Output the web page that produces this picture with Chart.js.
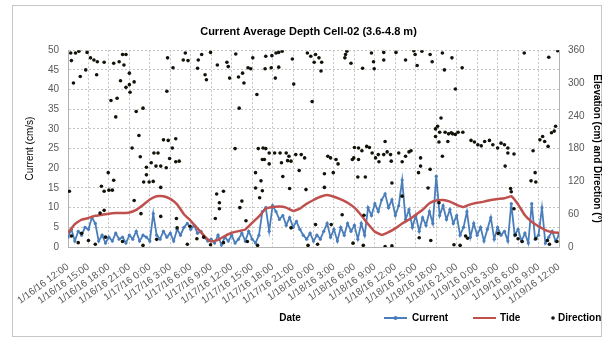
<!DOCTYPE html>
<html>
<head>
<meta charset="utf-8">
<title>Current Average Depth Cell-02</title>
<script src="https://cdn.jsdelivr.net/npm/chart.js@4.4.0/dist/chart.umd.min.js"></script>
<style>
  html, body { margin: 0; padding: 0; background: #fff; }
  #wrap { position: relative; width: 603px; height: 338px; }
</style>
</head>
<body>
<div id="wrap"><canvas id="depthChart" width="603" height="338"></canvas></div>
<script>
// x axis: hours since 1/16/16 12:00, one label every 3 hours
const tickLabels = [
  '1/16/16 12:00', '1/16/16 15:00', '1/16/16 18:00', '1/16/16 21:00',
  '1/17/16 0:00', '1/17/16 3:00', '1/17/16 6:00', '1/17/16 9:00',
  '1/17/16 12:00', '1/17/16 15:00', '1/17/16 18:00', '1/17/16 21:00',
  '1/18/16 0:00', '1/18/16 3:00', '1/18/16 6:00', '1/18/16 9:00',
  '1/18/16 12:00', '1/18/16 15:00', '1/18/16 18:00', '1/18/16 21:00',
  '1/19/16 0:00', '1/19/16 3:00', '1/19/16 6:00', '1/19/16 9:00',
  '1/19/16 12:00'
];
const tickStepHours = 3;

// Current (cm/s), one reading every half hour from hour 0
const currentStepHours = 0.5;
const currentValues = [
  2.5, 4.5, 1.5, 4, 3, 5, 4.5, 7.5, 6, 1.5,
  3, 1, 2.5, 1.5, 3.5, 2, 2.5, 1, 3, 2,
  4, 1.5, 3, 2.5, 1.5, 8.5, 3, 2, 4, 2.5,
  3.5, 1.5, 4.5, 3, 5, 6, 4.5, 5.5, 3.5, 4,
  2.5, 1.5, 2, 1, 3, 0.5, 2.5, 1.5, 3, 1,
  2, 3.5, 1.5, 4, 2, 1, 3, 9, 10, 4,
  10.5, 9, 7, 8, 5.5, 7.5, 5, 6.5, 4.5, 3,
  2, 3.5, 1.5, 3, 2, 4, 6, 2.5, 4.5, 1.5,
  5, 3, 6, 4, 5.5, 2, 6, 3, 10, 8,
  11, 9, 12, 13.5, 10, 12, 8, 10.5, 17, 7,
  9.5, 5, 8, 4, 7.5, 5.5, 9, 6, 18, 8,
  10.5, 7, 9.5, 6, 8, 3, 5, 9, 2.5, 6,
  3, 5, 1.5, 4.5, 7.5, 2, 5, 3, 4, 1.5,
  11, 3, 4.5, 1.5, 3.5, 1, 11, 2, 3, 10,
  1, 2.5, 4, 1.5, 3
];

// Tide elevation (cm), hourly from hour 0
const tideValues = [
  26, 42, 50, 53, 57, 59, 61, 62, 62, 63,
  68, 77, 87, 93, 93, 88, 78, 60, 48, 34,
  20, 10, 13, 20, 26, 29, 32, 44, 56, 70,
  73, 74, 72, 66, 70, 79, 86, 92, 95, 92,
  87, 81, 72, 58, 42, 28, 22, 27, 34, 43,
  50, 59, 68, 80, 85, 86, 83, 77, 73, 78,
  81, 83, 86, 88, 89, 93, 78, 58, 46, 38,
  31, 27, 26
];

// Direction (degrees) as [hour, degrees]
const directionObs = [
  [0.2, 102], [0.4, 355], [0.5, 341], [0.5, 20], [0.8, 300], [1.1, 355], [1.5, 8], [1.6, 358],
  [1.8, 312], [2.0, 25], [2.6, 324], [2.8, 356], [3.0, 12], [3.3, 346], [3.8, 342], [4.0, 5],
  [4.2, 315], [4.3, 339], [4.7, 62], [4.9, 111], [5.3, 338], [5.3, 102], [5.3, 67], [5.5, 18],
  [5.9, 136], [6.0, 104], [6.3, 268], [6.5, 104], [6.7, 336], [6.7, 122], [7.0, 238], [7.2, 272],
  [7.5, 339], [7.7, 304], [8.0, 352], [8.0, 10], [8.2, 333], [8.5, 352], [8.5, 292], [9.0, 318],
  [9.0, 297], [9.1, 283], [9.4, 181], [9.7, 302], [9.7, 85], [10.0, 248], [10.4, 204], [10.6, 165],
  [10.7, 61], [11.0, 254], [11.0, 3], [11.1, 119], [11.5, 146], [11.5, 132], [11.9, 119], [12.2, 154],
  [12.5, 120], [12.6, 172], [12.9, 148], [13.0, 14], [13.2, 172], [13.6, 148], [13.6, 109], [13.6, 56],
  [14.0, 196], [14.4, 145], [14.5, 285], [14.6, 346], [14.7, 195], [14.9, 162], [15.3, 181], [15.4, 328],
  [15.8, 198], [15.8, 156], [15.9, 52], [16.0, 35], [16.3, 157], [16.9, 342], [17.2, 355], [17.5, 5],
  [17.6, 341], [17.9, 38], [18.9, 15], [19.0, 327], [19.1, 342], [19.6, 352], [19.9, 18], [20.1, 315],
  [20.3, 306], [20.9, 356], [20.9, 4], [21.6, 52], [21.8, 97], [21.9, 333], [22.2, 81], [22.2, 70],
  [22.8, 102], [22.8, 8], [23.3, 338], [23.5, 330], [23.7, 309], [24.5, 180], [24.6, 353], [25.0, 311],
  [25.1, 254], [25.2, 72], [25.5, 84], [25.6, 318], [25.8, 300], [26.1, 48], [26.3, 10], [26.4, 328],
  [26.8, 326], [27.1, 346], [27.5, 136], [27.5, 108], [27.7, 279], [27.8, 3], [27.9, 180], [28.1, 90],
  [28.3, 121], [28.5, 160], [28.5, 103], [28.6, 181], [28.8, 160], [28.9, 326], [29.0, 349], [29.0, 180],
  [29.5, 172], [29.5, 152], [29.8, 328], [29.9, 350], [30.3, 172], [30.4, 309], [30.5, 355], [30.9, 356],
  [30.9, 329], [31.1, 172], [31.3, 154], [31.4, 358], [31.5, 129], [32.0, 172], [32.2, 158], [32.4, 166],
  [32.5, 107], [32.7, 157], [32.7, 35], [32.9, 344], [33.1, 298], [33.4, 169], [33.9, 140], [34.2, 169],
  [34.7, 163], [34.9, 105], [35.1, 355], [35.2, 3], [35.6, 349], [35.8, 266], [36.1, 338], [36.3, 352],
  [36.3, 41], [36.6, 5], [36.8, 346], [37.1, 322], [37.2, 338], [37.6, 134], [37.6, 109], [38.1, 166],
  [38.5, 163], [38.6, 41], [38.9, 136], [39.3, 160], [39.6, 152], [40.2, 59], [40.6, 346], [40.7, 352],
  [40.9, 358], [41.5, 336], [41.7, 160], [41.8, 7], [41.9, 163], [42.0, 182], [42.5, 128], [42.6, 181],
  [42.6, 160], [43.1, 176], [43.2, 327], [43.3, 3], [43.4, 58], [43.6, 128], [43.8, 184], [44.2, 182],
  [44.5, 355], [44.6, 172], [44.8, 339], [44.9, 326], [45.1, 163], [45.5, 169], [45.6, 156], [46.3, 356],
  [46.3, 342], [46.3, 169], [46.5, 193], [46.5, 1], [46.8, 174], [47.3, 169], [47.4, 157], [47.5, 117],
  [47.5, 2], [48.1, 356], [48.5, 172], [49.0, 156], [49.0, 93], [49.5, 342], [49.5, 166], [50.0, 174],
  [50.3, 176], [50.7, 359], [50.9, 352], [51.2, 332], [51.4, 136], [51.5, 17], [51.7, 163], [51.7, 148],
  [51.9, 358], [52.8, 108], [53.1, 352], [53.1, 142], [53.2, 12], [53.4, 339], [53.9, 216], [53.9, 202],
  [54.2, 221], [54.4, 192], [54.4, 81], [54.5, 210], [54.7, 236], [54.9, 355], [54.9, 166], [55.2, 324],
  [55.3, 210], [55.7, 193], [55.8, 207], [56.2, 209], [56.3, 346], [56.4, 207], [56.6, 4], [56.8, 289],
  [56.8, 206], [57.2, 210], [57.5, 3], [57.8, 328], [57.9, 210], [58.3, 20], [58.6, 16], [59.1, 195],
  [59.6, 192], [60.1, 187], [60.6, 185], [61.1, 193], [61.8, 195], [62.3, 187], [63.0, 181], [63.1, 25],
  [63.5, 190], [64.0, 187], [64.1, 148], [64.5, 181], [64.5, 172], [64.9, 107], [65.0, 101], [65.4, 170],
  [65.4, 70], [65.6, 22], [66.0, 15], [66.6, 10], [66.9, 355], [67.9, 121], [68.2, 176], [68.5, 136],
  [68.6, 119], [68.6, 15], [69.2, 196], [69.6, 202], [69.9, 193], [70.3, 12], [70.4, 184], [70.5, 347],
  [70.6, 5], [70.9, 209], [71.3, 212], [71.5, 221], [71.7, 10], [71.8, 359]
];

const FONT = "'Liberation Sans', Arial, sans-serif";
const TEXT_GREY = '#595959';
const GRID_GREY = '#c4c4c4';
const AXIS_GREY = '#b3b3b3';

// Frame around the whole chart, like the Excel chart border
const framePlugin = {
  id: 'frame',
  beforeDraw(chart) {
    const ctx = chart.ctx;
    ctx.save();
    ctx.fillStyle = '#fff';
    ctx.fillRect(0, 0, chart.width, chart.height);
    ctx.strokeStyle = '#c6c6c6';
    ctx.lineWidth = 1;
    ctx.strokeRect(12.5, 5.5, 589, 331);
    ctx.restore();
  }
};

// "Date" title and the legend share one row under the axis labels
const bottomRowPlugin = {
  id: 'bottomRow',
  afterDraw(chart) {
    const ctx = chart.ctx;
    const ds = chart.data.datasets;
    const y = 318;
    ctx.save();
    ctx.font = 'bold 10px ' + FONT;
    ctx.fillStyle = '#000';
    ctx.textBaseline = 'middle';
    ctx.textAlign = 'center';
    ctx.fillText('Date', 290, y);

    ctx.textAlign = 'left';
    // Current: line with marker
    ctx.strokeStyle = ds[2].borderColor;
    ctx.lineWidth = 2;
    ctx.beginPath();
    ctx.moveTo(384, y);
    ctx.lineTo(407, y);
    ctx.stroke();
    ctx.fillStyle = ds[2].borderColor;
    ctx.beginPath();
    ctx.arc(395.5, y, 2, 0, Math.PI * 2);
    ctx.fill();
    ctx.fillStyle = '#000';
    ctx.fillText(ds[2].label, 412, y);

    // Tide: plain line
    ctx.strokeStyle = ds[1].borderColor;
    ctx.beginPath();
    ctx.moveTo(473, y);
    ctx.lineTo(496, y);
    ctx.stroke();
    ctx.fillText(ds[1].label, 500, y);

    // Direction: dot
    ctx.fillStyle = ds[0].backgroundColor;
    ctx.beginPath();
    ctx.arc(553, y, 1.8, 0, Math.PI * 2);
    ctx.fill();
    ctx.fillStyle = '#000';
    ctx.fillText(ds[0].label, 558, y);
    ctx.restore();
  }
};

document.addEventListener('DOMContentLoaded', () => {
  setupChart();
});

function setupChart() {
  const ctx = document.getElementById('depthChart').getContext('2d');

  const currentPoints = currentValues.map((v, i) => ({ x: i * currentStepHours, y: v }));
  const tidePoints = tideValues.map((v, i) => ({ x: i, y: v }));
  const directionPoints = directionObs.map(d => ({ x: d[0], y: d[1] }));

  new Chart(ctx, {
    type: 'line',
    data: {
      datasets: [{
        label: 'Direction',
        data: directionPoints,
        yAxisID: 'y1',
        showLine: false,
        backgroundColor: '#121208',
        borderColor: '#121208',
        pointRadius: 1.8,
        pointBorderWidth: 0,
        order: 1
      }, {
        label: 'Tide',
        data: tidePoints,
        yAxisID: 'y1',
        borderColor: '#C0504D',
        borderWidth: 2.5,
        pointRadius: 0,
        tension: 0.1,
        order: 2
      }, {
        label: 'Current',
        data: currentPoints,
        yAxisID: 'y',
        borderColor: '#4A7EBB',
        backgroundColor: '#4A7EBB',
        borderWidth: 1.8,
        pointRadius: 1.6,
        pointBorderWidth: 0,
        tension: 0,
        order: 3
      }]
    },
    options: {
      responsive: false,
      animation: false,
      layout: {
        padding: { left: 14, right: 0, top: 6, bottom: 0 }
      },
      plugins: {
        legend: { display: false },
        tooltip: { enabled: false },
        title: {
          display: true,
          text: 'Current Average Depth Cell-02 (3.6-4.8 m)',
          color: '#000',
          font: { family: FONT, size: 11, weight: 'bold' },
          padding: { top: 19, bottom: 12 }
        }
      },
      scales: {
        x: {
          type: 'linear',
          min: 0,
          max: 72,
          afterFit: (scale) => { scale.height = 91; },
          afterBuildTicks: (scale) => {
            scale.ticks = tickLabels.map((t, i) => ({ value: i * tickStepHours }));
          },
          grid: { color: GRID_GREY, drawTicks: false },
          border: { color: AXIS_GREY, dash: [2, 2] },
          ticks: {
            autoSkip: false,
            minRotation: 36,
            maxRotation: 36,
            padding: 14,
            color: TEXT_GREY,
            font: { family: FONT, size: 10 },
            callback: (value) => tickLabels[Math.round(value / tickStepHours)]
          }
        },
        y: {
          position: 'left',
          min: 0,
          max: 50,
          afterFit: (scale) => { scale.width = 54; },
          grid: { color: GRID_GREY, drawTicks: false },
          border: { color: AXIS_GREY, dash: [2, 2] },
          ticks: {
            stepSize: 5,
            padding: 9,
            color: TEXT_GREY,
            font: { family: FONT, size: 10 }
          },
          title: {
            display: true,
            text: 'Current (cm/s)',
            color: '#000',
            font: { family: FONT, size: 10 },
            padding: { top: 10, bottom: 0 }
          }
        },
        y1: {
          position: 'right',
          min: 0,
          max: 360,
          afterFit: (scale) => { scale.width = 44; },
          grid: { drawOnChartArea: false, drawTicks: false },
          border: { color: AXIS_GREY },
          ticks: {
            stepSize: 60,
            padding: 9,
            color: TEXT_GREY,
            font: { family: FONT, size: 10 }
          },
          title: {
            display: true,
            text: 'Elevation (cm) and Direction (°)',
            color: '#000',
            font: { family: FONT, size: 10, weight: 'bold' },
            padding: { top: 0, bottom: 0 }
          }
        }
      }
    },
    plugins: [framePlugin, bottomRowPlugin]
  });
}
</script>
</body>
</html>
